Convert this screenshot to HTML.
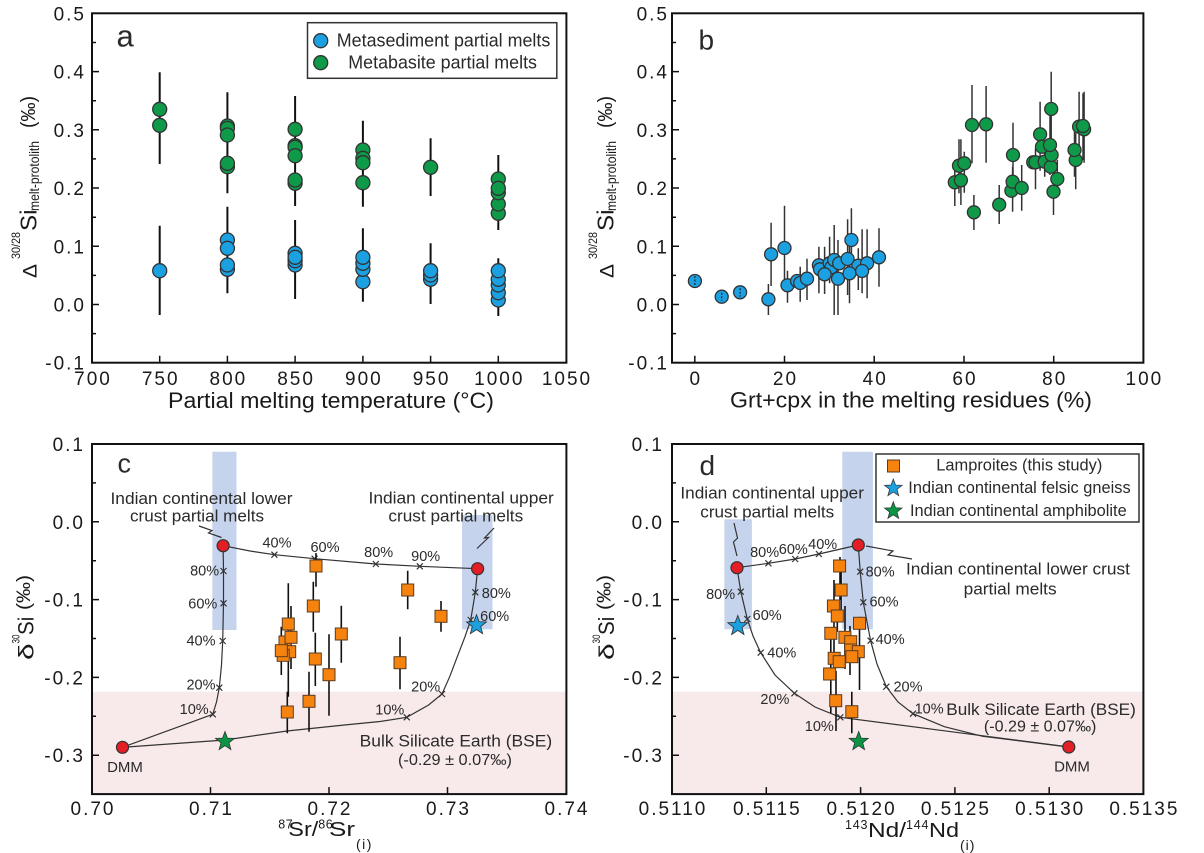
<!DOCTYPE html>
<html><head><meta charset="utf-8">
<style>
html,body{margin:0;padding:0;background:#fff;}
svg{display:block;font-family:"Liberation Sans",Arial,sans-serif;}
.tk{font-size:19px;letter-spacing:2px;fill:#1a1a1a;}
.pc{font-size:14.5px;fill:#2a2a2a;}
.an{font-size:17px;fill:#2a2a2a;}
</style></head><body>
<svg width="1204" height="853" viewBox="0 0 1204 853" xmlns="http://www.w3.org/2000/svg">
<rect width="1204" height="853" fill="#fff"/>

<!-- ============ PANEL A ============ -->
<g>
<path d="M159.7,72.3V164M227.4,92.3V193.3M295.1,96V206M362.9,120.7V206.7M430.6,138.3V196M498.3,155V230
M159.7,225.7V315M227.4,206.7V293.3M295.1,220V299M362.9,228.3V301.7M430.6,243.3V304M498.3,258.3V316" stroke="#111" stroke-width="2" fill="none"/>
<g fill="#0E9A48" stroke="#333" stroke-width="1.3">
<circle cx="159.7" cy="125.3" r="7"/><circle cx="159.7" cy="109.3" r="7"/>
<circle cx="227.4" cy="166.7" r="7"/><circle cx="227.4" cy="163.3" r="7"/><circle cx="227.4" cy="126" r="7"/><circle cx="227.4" cy="128.3" r="7"/><circle cx="227.4" cy="135" r="7"/>
<circle cx="295.1" cy="183.3" r="7"/><circle cx="295.1" cy="180" r="7"/><circle cx="295.1" cy="129.3" r="7"/><circle cx="295.1" cy="145.7" r="7"/><circle cx="295.1" cy="147.3" r="7"/><circle cx="295.1" cy="155.7" r="7"/>
<circle cx="362.9" cy="182.7" r="7"/><circle cx="362.9" cy="150" r="7"/><circle cx="362.9" cy="158.3" r="7"/><circle cx="362.9" cy="162.7" r="7"/>
<circle cx="430.6" cy="167.3" r="7"/>
<circle cx="498.3" cy="213.3" r="7"/><circle cx="498.3" cy="204" r="7"/><circle cx="498.3" cy="179" r="7"/><circle cx="498.3" cy="192.7" r="7"/><circle cx="498.3" cy="188.3" r="7"/>
</g>
<g fill="#1BA1E2" stroke="#333" stroke-width="1.3">
<circle cx="159.7" cy="270.7" r="7"/>
<circle cx="227.4" cy="269.3" r="7"/><circle cx="227.4" cy="265" r="7"/><circle cx="227.4" cy="240" r="7"/><circle cx="227.4" cy="248.3" r="7"/>
<circle cx="295.1" cy="265" r="7"/><circle cx="295.1" cy="260.7" r="7"/><circle cx="295.1" cy="253.3" r="7"/><circle cx="295.1" cy="257.3" r="7"/>
<circle cx="362.9" cy="281.7" r="7"/><circle cx="362.9" cy="269.3" r="7"/><circle cx="362.9" cy="263.3" r="7"/><circle cx="362.9" cy="257.3" r="7"/>
<circle cx="430.6" cy="279.3" r="7"/><circle cx="430.6" cy="275" r="7"/><circle cx="430.6" cy="270.7" r="7"/>
<circle cx="498.3" cy="300" r="7"/><circle cx="498.3" cy="292.7" r="7"/><circle cx="498.3" cy="285" r="7"/><circle cx="498.3" cy="279.3" r="7"/><circle cx="498.3" cy="270.7" r="7"/>
</g>
<rect x="307.5" y="22.7" width="249.3" height="55.6" fill="#fff" stroke="#333" stroke-width="1.5"/>
<circle cx="320.7" cy="40.7" r="7" fill="#1BA1E2" stroke="#333" stroke-width="1.3"/>
<circle cx="320.7" cy="62.7" r="7" fill="#0E9A48" stroke="#333" stroke-width="1.3"/>
<text x="336.8" y="46.5" font-size="18" fill="#2a2a2a" textLength="213.5" lengthAdjust="spacingAndGlyphs">Metasediment partial melts</text>
<text x="348.3" y="68.5" font-size="18" fill="#2a2a2a" textLength="188.7" lengthAdjust="spacingAndGlyphs">Metabasite partial melts</text>
<text x="116.5" y="46.5" font-size="31" fill="#2a2a2a">a</text>
<rect x="92" y="13.3" width="474.4" height="349.4" fill="none" stroke="#111" stroke-width="2"/>
<path d="M92,71.6h7M92,129.8h7M92,188h7M92,246.3h7M92,304.5h7M92,42.5h4M92,100.7h4M92,158.9h4M92,217.2h4M92,275.4h4M92,333.6h4
M159.7,362.7v-7M227.4,362.7v-7M295.1,362.7v-7M362.9,362.7v-7M430.6,362.7v-7M498.3,362.7v-7" stroke="#111" stroke-width="1.5"/>
<g class="tk" text-anchor="end">
<text x="86" y="20.3">0.5</text><text x="86" y="78.6">0.4</text><text x="86" y="136.8">0.3</text><text x="86" y="195">0.2</text><text x="86" y="253.3">0.1</text><text x="86" y="311.5">0.0</text><text x="86" y="369.7">-0.1</text>
</g>
<g class="tk" text-anchor="middle">
<text x="93" y="385">700</text><text x="160.7" y="385">750</text><text x="228.4" y="385">800</text><text x="296.1" y="385">850</text><text x="363.9" y="385">900</text><text x="431.6" y="385">950</text><text x="499.3" y="385">1000</text><text x="567" y="385">1050</text>
</g>
<text x="168" y="408" font-size="22" fill="#1a1a1a" textLength="326" lengthAdjust="spacingAndGlyphs">Partial melting temperature (°C)</text>
<g fill="#1a1a1a">
<text transform="rotate(-90)" x="-278" y="36.7" font-size="19" textLength="14" lengthAdjust="spacingAndGlyphs">Δ</text>
<text transform="rotate(-90)" x="-259" y="20" font-size="12" textLength="27" lengthAdjust="spacingAndGlyphs">30/28</text>
<text transform="rotate(-90)" x="-231" y="36.7" font-size="23" textLength="21.5" lengthAdjust="spacingAndGlyphs">Si</text>
<text transform="rotate(-90)" x="-211" y="39" font-size="14" textLength="70" lengthAdjust="spacingAndGlyphs">melt-protolith</text>
<text transform="rotate(-90)" x="-128" y="35" font-size="20" textLength="32" lengthAdjust="spacingAndGlyphs">(‰)</text>
</g>
</g>

<!-- ============ PANEL B ============ -->
<g>
<path d="M768.4,284V315M771.1,222.7V286M784.5,205.7V286M787.5,270.7V302.7M800.2,266.7V301.7M807,258.7V300M818.9,246.7V293.3M824.6,246.7V294M829.6,236.7V283.3M834.2,225V315M838,240V315M847.6,219.3V295M849.5,246.7V303.3M851.4,208.3V263.3M858.3,248.3V290M862.1,229.3V293.3M867.1,229.3V298.3M879,228.3V286.7
M954.8,160V206M959,139.3V193.3M960.9,139.3V205M964.3,151.7V192.7M972,85V163.3M973.9,195V230M986.1,86V162.7M999.2,185V224M1012.6,166.7V211.7M1013,122.7V185M1021.7,165V210.7M1035.5,148.3V189.3M1040.1,101.7V170.7M1044.7,140V176.7M1050,115V175M1051.2,71.7V159.3M1053.5,168.3V215M1057.3,160V196.7M1074.5,131.7V176.7M1075.7,133.3V189.3M1079.1,91.7V160M1083,93.3V160M1084.1,91.7V162.7" stroke="#333" stroke-width="1.5" fill="none"/>
<g fill="#1BA1E2" stroke="#333" stroke-width="1.3">
<circle cx="694.9" cy="281" r="6.5"/><circle cx="721.7" cy="296.7" r="6.5"/><circle cx="740.1" cy="292.3" r="6.5"/>
<circle cx="768.4" cy="299.3" r="6.5"/><circle cx="771.1" cy="254.3" r="6.5"/><circle cx="784.5" cy="248" r="6.5"/><circle cx="787.5" cy="285.3" r="6.5"/>
<circle cx="797.1" cy="281" r="6.5"/><circle cx="800.2" cy="283" r="6.5"/><circle cx="807" cy="278.7" r="6.5"/>
<circle cx="818.9" cy="265.3" r="6.5"/><circle cx="820" cy="269.3" r="6.5"/><circle cx="829.6" cy="263.3" r="6.5"/><circle cx="831.5" cy="267.3" r="6.5"/>
<circle cx="834.2" cy="260" r="6.5"/><circle cx="839.2" cy="263.3" r="6.5"/><circle cx="824.6" cy="274.3" r="6.5"/><circle cx="838" cy="278.7" r="6.5"/>
<circle cx="847.6" cy="259" r="6.5"/><circle cx="858.3" cy="265.7" r="6.5"/><circle cx="867.1" cy="263.3" r="6.5"/><circle cx="849.5" cy="273.3" r="6.5"/>
<circle cx="851.4" cy="240" r="6.5"/><circle cx="862.1" cy="271" r="6.5"/><circle cx="879" cy="257.3" r="6.5"/>
</g>
<path d="M694.9,276V286M721.7,292.7V300.7M740.1,288.3V296.7" stroke="#222" stroke-width="1.2" stroke-dasharray="2,1.5"/>
<g fill="#0E9A48" stroke="#333" stroke-width="1.3">
<circle cx="959" cy="165.7" r="6.5"/><circle cx="954.8" cy="182.3" r="6.5"/><circle cx="960.9" cy="180.3" r="6.5"/><circle cx="964.3" cy="163.3" r="6.5"/>
<circle cx="972" cy="125" r="6.5"/><circle cx="973.9" cy="212.3" r="6.5"/><circle cx="986.1" cy="124.3" r="6.5"/><circle cx="999.2" cy="204.7" r="6.5"/>
<circle cx="1011.4" cy="190.7" r="6.5"/><circle cx="1012.6" cy="181.7" r="6.5"/><circle cx="1013" cy="155" r="6.5"/><circle cx="1021.7" cy="188" r="6.5"/>
<circle cx="1033.2" cy="162.3" r="6.5"/><circle cx="1035.5" cy="162.3" r="6.5"/><circle cx="1040.1" cy="134.3" r="6.5"/><circle cx="1042" cy="146.7" r="6.5"/>
<circle cx="1044.7" cy="161.7" r="6.5"/><circle cx="1050.8" cy="166.7" r="6.5"/><circle cx="1051.6" cy="155" r="6.5"/><circle cx="1050" cy="145" r="6.5"/>
<circle cx="1051.2" cy="109" r="6.5"/><circle cx="1053.5" cy="191.7" r="6.5"/><circle cx="1057.3" cy="179" r="6.5"/>
<circle cx="1075.7" cy="160" r="6.5"/><circle cx="1074.5" cy="150" r="6.5"/><circle cx="1079.1" cy="126.7" r="6.5"/><circle cx="1084.1" cy="129.3" r="6.5"/><circle cx="1083" cy="126" r="6.5"/>
</g>
<text x="698.5" y="49.3" font-size="28" fill="#2a2a2a">b</text>
<rect x="672" y="13.3" width="471.4" height="349.4" fill="none" stroke="#111" stroke-width="2"/>
<path d="M672,71.6h7M672,129.8h7M672,188h7M672,246.3h7M672,304.5h7M672,42.5h4M672,100.7h4M672,158.9h4M672,217.2h4M672,275.4h4M672,333.6h4
M694.8,362.7v-7M784.5,362.7v-7M874.2,362.7v-7M964,362.7v-7M1053.7,362.7v-7" stroke="#111" stroke-width="1.5"/>
<g class="tk" text-anchor="end">
<text x="669" y="20.3">0.5</text><text x="669" y="78.6">0.4</text><text x="669" y="136.8">0.3</text><text x="669" y="195">0.2</text><text x="669" y="253.3">0.1</text><text x="669" y="311.5">0.0</text><text x="669" y="369.7">-0.1</text>
</g>
<g class="tk" text-anchor="middle">
<text x="695.8" y="385">0</text><text x="785.5" y="385">20</text><text x="875.2" y="385">40</text><text x="965" y="385">60</text><text x="1054.7" y="385">80</text><text x="1144.4" y="385">100</text>
</g>
<text x="730" y="407.5" font-size="22" fill="#1a1a1a" textLength="362" lengthAdjust="spacingAndGlyphs">Grt+cpx in the melting residues (%)</text>
<g fill="#1a1a1a">
<text transform="rotate(-90)" x="-278" y="613.7" font-size="19" textLength="14" lengthAdjust="spacingAndGlyphs">Δ</text>
<text transform="rotate(-90)" x="-259" y="597" font-size="12" textLength="27" lengthAdjust="spacingAndGlyphs">30/28</text>
<text transform="rotate(-90)" x="-231" y="613.7" font-size="23" textLength="21.5" lengthAdjust="spacingAndGlyphs">Si</text>
<text transform="rotate(-90)" x="-211" y="616" font-size="14" textLength="70" lengthAdjust="spacingAndGlyphs">melt-protolith</text>
<text transform="rotate(-90)" x="-128" y="612" font-size="20" textLength="32" lengthAdjust="spacingAndGlyphs">(‰)</text>
</g>
</g>

<!-- ============ PANEL C ============ -->
<g>
<rect x="92" y="691.7" width="474.4" height="102.4" fill="#F8EAEA"/>
<rect x="212.4" y="451.7" width="24.1" height="178.3" fill="#C5D3EC"/>
<rect x="462" y="515" width="30.5" height="114.3" fill="#C5D3EC"/>
<g fill="none" stroke="#333" stroke-width="1.2">
<polyline points="223.1,545.7 250,551 274.4,554.7 314.6,558.7 375.8,564 419.8,566.3 477.6,568.7"/>
<polyline points="223.1,545.7 223.5,571 223.5,603.3 222.7,641 221.5,665 219.3,687.7 216.5,702 212.8,714.3 122.5,747.3"/>
<polyline points="477.6,568.7 475.3,592.3 470.7,620 465,636.7 457.3,656.7 449.7,676.7 442,694 428.6,705 406.8,717.3 380,721.5 344.4,725 287,731 225,740 122.5,747.3"/>
<path d="M199,526 L212,530.5 L208.5,533 L221.5,537.5"/>
<path d="M494,528 L484.5,538 L488.5,537.5 L477,548.5"/>
</g>
<path stroke="#333" stroke-width="1.2" d="M271.4,551.7L277.4,557.7M277.4,551.7L271.4,557.7M311.6,555.7L317.6,561.7M317.6,555.7L311.6,561.7M372.8,561L378.8,567M378.8,561L372.8,567M416.8,563.3L422.8,569.3M422.8,563.3L416.8,569.3M220.5,568L226.5,574M226.5,568L220.5,574M220.5,600.3L226.5,606.3M226.5,600.3L220.5,606.3M219.7,638L225.7,644M225.7,638L219.7,644M216.3,684.7L222.3,690.7M222.3,684.7L216.3,690.7M209.8,711.3L215.8,717.3M215.8,711.3L209.8,717.3M472.3,589.3L478.3,595.3M478.3,589.3L472.3,595.3M467.7,617L473.7,623M473.7,617L467.7,623M439,691L445,697M445,691L439,697M403.8,714.3L409.8,720.3M409.8,714.3L403.8,720.3"/>
<path stroke="#111" stroke-width="1.6" d="M316,553V586.7M407.7,570.7V609.3M313.3,581.7V631.7M441,601V631.7M288.3,583.3V696.7M291,606V669M341.3,605.7V662.7M281.3,626.7V675M315.3,632.7V686M329,634.3V715.7M400,636.7V689.3M309,671.7V731.7M287.3,691.7V733.3"/>
<g fill="#F7830F" stroke="#5a3b22" stroke-width="1">
<rect x="310" y="560" width="12" height="12"/><rect x="401.7" y="584" width="12" height="12"/><rect x="307.3" y="600" width="12" height="12"/><rect x="435" y="610.3" width="12" height="12"/>
<rect x="282.3" y="618" width="12" height="12"/><rect x="335.3" y="628" width="12" height="12"/><rect x="279" y="636" width="12" height="12"/><rect x="283.7" y="645.7" width="12" height="12"/>
<rect x="277.2" y="649.3" width="12" height="12"/><rect x="275.3" y="644.7" width="12" height="12"/><rect x="285" y="631.3" width="12" height="12"/>
<rect x="309.3" y="653" width="12" height="12"/><rect x="323" y="668.7" width="12" height="12"/><rect x="394" y="656.7" width="12" height="12"/>
<rect x="303" y="695.3" width="12" height="12"/><rect x="281.3" y="706" width="12" height="12"/>
</g>
<g fill="#E31E24" stroke="#333" stroke-width="1.2">
<circle cx="223.1" cy="545.7" r="6"/><circle cx="477.6" cy="568.7" r="6"/><circle cx="122.5" cy="747.3" r="6"/>
</g>
<polygon transform="translate(225,741.5) scale(1.0)" points="0,-10 2.47,-3.4 9.51,-3.09 3.99,1.3 5.88,8.09 0,4.2 -5.88,8.09 -3.99,1.3 -9.51,-3.09 -2.47,-3.4" fill="#0B9444" stroke="#333" stroke-width="0.8"/>
<polygon transform="translate(476.5,625.2) scale(1.05)" points="0,-10 2.47,-3.4 9.51,-3.09 3.99,1.3 5.88,8.09 0,4.2 -5.88,8.09 -3.99,1.3 -9.51,-3.09 -2.47,-3.4" fill="#1CA0DE" stroke="#333" stroke-width="0.8"/>
<g class="pc" text-anchor="middle">
<text x="277" y="547.3">40%</text><text x="325" y="552">60%</text><text x="378.7" y="557">80%</text><text x="425.7" y="561">90%</text>
<text x="204.6" y="575.7">80%</text><text x="202.8" y="608.3">60%</text><text x="201" y="645.7">40%</text><text x="201" y="689.3">20%</text><text x="194.2" y="714">10%</text>
<text x="496.3" y="598">80%</text><text x="494.7" y="621">60%</text><text x="425.7" y="691.7">20%</text><text x="389.8" y="714.5">10%</text>
</g>
<g class="an">
<text x="110.5" y="504" textLength="182" lengthAdjust="spacingAndGlyphs">Indian continental lower</text>
<text x="130" y="521.7" textLength="134" lengthAdjust="spacingAndGlyphs">crust partial melts</text>
<text x="368.5" y="503.5" textLength="185.3" lengthAdjust="spacingAndGlyphs">Indian continental upper</text>
<text x="388.4" y="521.7" textLength="134.8" lengthAdjust="spacingAndGlyphs">crust partial melts</text>
<text x="359.7" y="746.7" textLength="192.5" lengthAdjust="spacingAndGlyphs">Bulk Silicate Earth (BSE)</text>
<text x="398" y="765" font-size="15.5" textLength="114" lengthAdjust="spacingAndGlyphs">(-0.29 ± 0.07‰)</text>
<text x="125" y="772" font-size="15" text-anchor="middle">DMM</text>
</g>
<text x="117.5" y="472.3" font-size="27" fill="#2a2a2a">c</text>
<rect x="92" y="444" width="474.4" height="350.1" fill="none" stroke="#111" stroke-width="2"/>
<path d="M92,521.8h7M92,599.6h7M92,677.4h7M92,755.2h7M92,482.9h4M92,560.7h4M92,638.5h4M92,716.3h4
M210.5,794.1v-7M329,794.1v-7M447.5,794.1v-7" stroke="#111" stroke-width="1.5"/>
<g class="tk" text-anchor="end">
<text x="85" y="451">0.1</text><text x="85" y="528.8">0.0</text><text x="85" y="606.6">-0.1</text><text x="85" y="684.4">-0.2</text><text x="85" y="762.2">-0.3</text>
</g>
<g class="tk" text-anchor="middle">
<text x="93" y="815">0.70</text><text x="211.5" y="815">0.71</text><text x="330" y="815">0.72</text><text x="448.5" y="815">0.73</text><text x="567" y="815">0.74</text>
</g>
<g fill="#1a1a1a">
<text x="278.3" y="828.5" font-size="12.5" letter-spacing="0.5">87</text>
<text x="288.3" y="836" font-size="20" textLength="30" lengthAdjust="spacingAndGlyphs">Sr/</text>
<text x="318.3" y="828.5" font-size="12.5" letter-spacing="0.5">86</text>
<text x="329" y="836" font-size="20" textLength="26" lengthAdjust="spacingAndGlyphs">Sr</text>
<text x="356" y="849" font-size="14" letter-spacing="1.5">(i)</text>
</g>
<g fill="#1a1a1a">
<text transform="rotate(-90)" x="-660" y="33.3" font-size="21" textLength="16.7" lengthAdjust="spacingAndGlyphs">δ</text>
<text transform="rotate(-90)" x="-643.5" y="19.5" font-size="11" textLength="9" lengthAdjust="spacingAndGlyphs">30</text>
<text transform="rotate(-90)" x="-635" y="33.3" font-size="22" textLength="18.3" lengthAdjust="spacingAndGlyphs">Si</text>
<text transform="rotate(-90)" x="-610" y="30" font-size="19" textLength="35" lengthAdjust="spacingAndGlyphs">(‰)</text>
</g>
</g>

<!-- ============ PANEL D ============ -->
<g>
<rect x="672" y="691.7" width="471.4" height="102.4" fill="#F8EAEA"/>
<rect x="842.3" y="451.7" width="30.6" height="177.6" fill="#C5D3EC"/>
<rect x="724.4" y="519.3" width="27.5" height="110" fill="#C5D3EC"/>
<g fill="none" stroke="#333" stroke-width="1.2">
<polyline points="737,567.7 768.4,563.3 795.2,559 818.9,554 858.3,545"/>
<polyline points="858.3,545 860.2,571.7 863.3,602.3 870.6,640.7 877,664 886.3,686.7 898,702 913,713.7 944.4,726.7 982.7,736.3 1021,741 1068.8,747"/>
<polyline points="737,567.7 740.8,591.7 747.3,619 753,636 760.7,652.7 775,675 794.4,693.3 815,707 840.3,717.3 944.4,730.8 1068.8,747"/>
<path d="M734,523 L737.5,538 L733.5,542 L737,556"/>
<path d="M866,546 L893,551 L888,555 L912,559"/>
</g>
<path stroke="#333" stroke-width="1.2" d="M765.4,560.3L771.4,566.3M771.4,560.3L765.4,566.3M792.2,556L798.2,562M798.2,556L792.2,562M815.9,551L821.9,557M821.9,551L815.9,557M857.2,568.7L863.2,574.7M863.2,568.7L857.2,574.7M860.3,599.3L866.3,605.3M866.3,599.3L860.3,605.3M867.6,637.7L873.6,643.7M873.6,637.7L867.6,643.7M883.3,683.7L889.3,689.7M889.3,683.7L883.3,689.7M910,710.7L916,716.7M916,710.7L910,716.7M737.8,588.7L743.8,594.7M743.8,588.7L737.8,594.7M744.3,616L750.3,622M750.3,616L744.3,622M757.7,649.7L763.7,655.7M763.7,649.7L757.7,655.7M791.4,690.3L797.4,696.3M797.4,690.3L791.4,696.3M837.3,714.3L843.3,720.3M843.3,714.3L837.3,720.3"/>
<path stroke="#111" stroke-width="1.6" d="M830.8,628V713M834,580V670M840,557V600M845,606V669M851.8,691.7V733.3M859.5,616.7V690M850,626V675M836,671V731M841.1,570.7V610M837.3,601.7V631.7"/>
<g fill="#F7830F" stroke="#5a3b22" stroke-width="1">
<rect x="833.6" y="560" width="12" height="12"/><rect x="835.1" y="584" width="12" height="12"/><rect x="827.4" y="600" width="12" height="12"/><rect x="831.3" y="610" width="12" height="12"/>
<rect x="853.5" y="617.3" width="12" height="12"/><rect x="824.8" y="627.3" width="12" height="12"/><rect x="838.9" y="631.3" width="12" height="12"/><rect x="844.7" y="635.7" width="12" height="12"/>
<rect x="844.7" y="644" width="12" height="12"/><rect x="852.3" y="645.7" width="12" height="12"/><rect x="828.2" y="652.3" width="12" height="12"/><rect x="833.2" y="655.7" width="12" height="12"/>
<rect x="845.8" y="650.7" width="12" height="12"/><rect x="823.6" y="668" width="12" height="12"/><rect x="829.7" y="694.7" width="12" height="12"/><rect x="845.8" y="705.7" width="12" height="12"/>
</g>
<g fill="#E31E24" stroke="#333" stroke-width="1.2">
<circle cx="737" cy="567.7" r="6"/><circle cx="858.3" cy="545" r="6"/><circle cx="1068.8" cy="747" r="6"/>
</g>
<polygon transform="translate(737.8,626) scale(1.05)" points="0,-10 2.47,-3.4 9.51,-3.09 3.99,1.3 5.88,8.09 0,4.2 -5.88,8.09 -3.99,1.3 -9.51,-3.09 -2.47,-3.4" fill="#1CA0DE" stroke="#333" stroke-width="0.8"/>
<polygon transform="translate(858.7,741.5) scale(1.0)" points="0,-10 2.47,-3.4 9.51,-3.09 3.99,1.3 5.88,8.09 0,4.2 -5.88,8.09 -3.99,1.3 -9.51,-3.09 -2.47,-3.4" fill="#0B9444" stroke="#333" stroke-width="0.8"/>
<g class="pc" text-anchor="middle">
<text x="764.6" y="557">80%</text><text x="793.3" y="554">60%</text><text x="822.7" y="549">40%</text>
<text x="880.1" y="576.5">80%</text><text x="884" y="606.5">60%</text><text x="890.1" y="644">40%</text><text x="908" y="691.5">20%</text><text x="929.1" y="713.5">10%</text>
<text x="720.6" y="599">80%</text><text x="767.2" y="620">60%</text><text x="781.8" y="657.5">40%</text><text x="774.9" y="704">20%</text><text x="819.3" y="731">10%</text>
</g>
<g class="an">
<text x="680.4" y="498.3" textLength="183.6" lengthAdjust="spacingAndGlyphs">Indian continental upper</text>
<text x="700.3" y="517.3" textLength="133.9" lengthAdjust="spacingAndGlyphs">crust partial melts</text>
<text x="906" y="574.5" textLength="224" lengthAdjust="spacingAndGlyphs">Indian continental lower crust</text>
<text x="963.6" y="594.3" textLength="93" lengthAdjust="spacingAndGlyphs">partial melts</text>
<text x="946.3" y="715" textLength="189.5" lengthAdjust="spacingAndGlyphs">Bulk Silicate Earth (BSE)</text>
<text x="983.9" y="731.7" font-size="15.5" textLength="112.5" lengthAdjust="spacingAndGlyphs">(-0.29 ± 0.07‰)</text>
<text x="1072" y="771.7" font-size="15" text-anchor="middle">DMM</text>
</g>
<rect x="876" y="454" width="263" height="68" fill="#fff" stroke="#333" stroke-width="1.5"/>
<rect x="887.5" y="460" width="12" height="12" fill="#F7830F" stroke="#5a3b22" stroke-width="1"/>
<polygon transform="translate(893.3,488.2) scale(0.92)" points="0,-10 2.47,-3.4 9.51,-3.09 3.99,1.3 5.88,8.09 0,4.2 -5.88,8.09 -3.99,1.3 -9.51,-3.09 -2.47,-3.4" fill="#1CA0DE" stroke="#333" stroke-width="0.8"/>
<polygon transform="translate(893.3,510.9) scale(0.92)" points="0,-10 2.47,-3.4 9.51,-3.09 3.99,1.3 5.88,8.09 0,4.2 -5.88,8.09 -3.99,1.3 -9.51,-3.09 -2.47,-3.4" fill="#0B9444" stroke="#333" stroke-width="0.8"/>
<g font-size="16.5" fill="#2a2a2a">
<text x="936.3" y="470.5" textLength="166" lengthAdjust="spacingAndGlyphs">Lamproites (this study)</text>
<text x="908.3" y="493" textLength="222.4" lengthAdjust="spacingAndGlyphs">Indian continental felsic gneiss</text>
<text x="910" y="516" textLength="216.7" lengthAdjust="spacingAndGlyphs">Indian continental amphibolite</text>
</g>
<text x="699.5" y="475" font-size="28" fill="#2a2a2a">d</text>
<rect x="672" y="444" width="471.4" height="350.1" fill="none" stroke="#111" stroke-width="2"/>
<path d="M672,521.8h7M672,599.6h7M672,677.4h7M672,755.2h7M672,482.9h4M672,560.7h4M672,638.5h4M672,716.3h4
M766.3,794.1v-7M860.6,794.1v-7M954.9,794.1v-7M1049.2,794.1v-7" stroke="#111" stroke-width="1.5"/>
<g class="tk" text-anchor="end">
<text x="664" y="451">0.1</text><text x="664" y="528.8">0.0</text><text x="664" y="606.6">-0.1</text><text x="664" y="684.4">-0.2</text><text x="664" y="762.2">-0.3</text>
</g>
<g class="tk" text-anchor="middle">
<text x="673" y="815">0.5110</text><text x="767.3" y="815">0.5115</text><text x="861.6" y="815">0.5120</text><text x="955.9" y="815">0.5125</text><text x="1050.2" y="815">0.5130</text><text x="1144.4" y="815">0.5135</text>
</g>
<g fill="#1a1a1a">
<text x="845" y="829" font-size="12.5" letter-spacing="0.8">143</text>
<text x="868" y="837" font-size="20" textLength="38" lengthAdjust="spacingAndGlyphs">Nd/</text>
<text x="906" y="829" font-size="12.5" letter-spacing="0.8">144</text>
<text x="929" y="837" font-size="20" textLength="30" lengthAdjust="spacingAndGlyphs">Nd</text>
<text x="960" y="850" font-size="14" letter-spacing="1">(i)</text>
</g>
<g fill="#1a1a1a">
<text transform="rotate(-90)" x="-660" y="614" font-size="21" textLength="16.7" lengthAdjust="spacingAndGlyphs">δ</text>
<text transform="rotate(-90)" x="-643.5" y="600.2" font-size="11" textLength="9" lengthAdjust="spacingAndGlyphs">30</text>
<text transform="rotate(-90)" x="-635" y="614" font-size="22" textLength="18.3" lengthAdjust="spacingAndGlyphs">Si</text>
<text transform="rotate(-90)" x="-610" y="610.7" font-size="19" textLength="35" lengthAdjust="spacingAndGlyphs">(‰)</text>
</g>
</g>
</svg>
</body></html>
